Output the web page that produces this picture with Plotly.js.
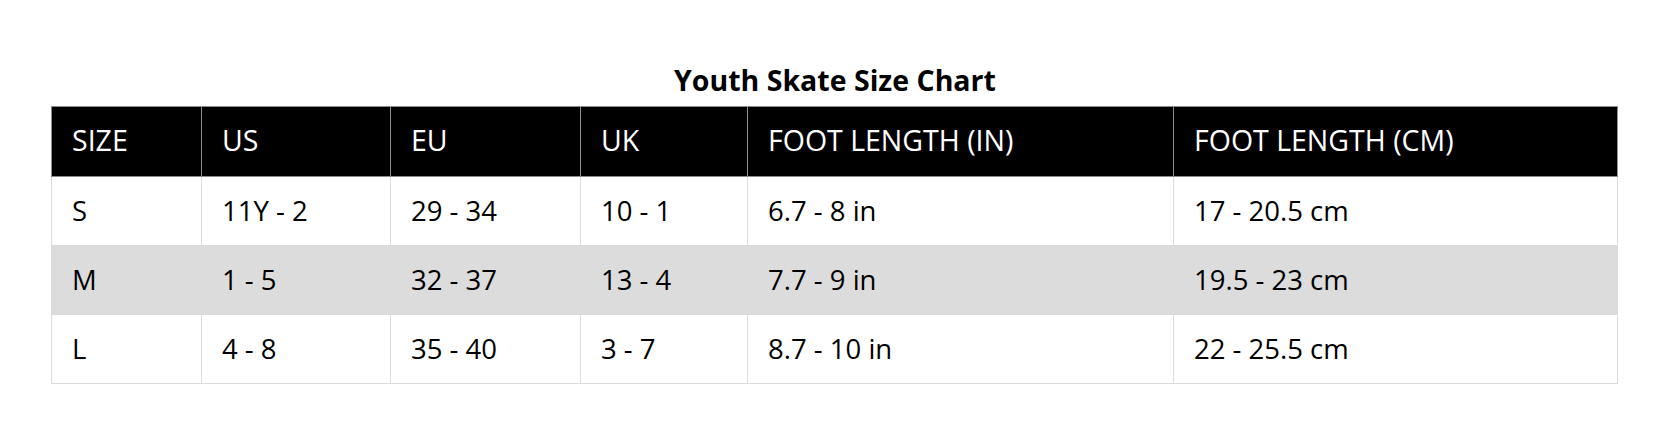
<!DOCTYPE html>
<html>
<head>
<meta charset="utf-8">
<script src="https://cdn.plot.ly/plotly-3.0.1.min.js"></script>
<style>
  html, body { margin: 0; padding: 0; background: #ffffff; }
  #chart { width: 1670px; height: 440px; }
</style>
</head>
<body>
<div id="chart"></div>
<script>
// ---- data ----
var chartTitle = 'Youth Skate Size Chart';
var headers = ['SIZE', 'US', 'EU', 'UK', 'FOOT LENGTH (IN)', 'FOOT LENGTH (CM)'];
var sizes = ['S', 'M', 'L'];
var usSizes = ['11Y - 2', '1 - 5', '4 - 8'];
var euSizes = ['29 - 34', '32 - 37', '35 - 40'];
var ukSizes = ['10 - 1', '13 - 4', '3 - 7'];
var footLengthIn = ['6.7 - 8 in', '7.7 - 9 in', '8.7 - 10 in'];
var footLengthCm = ['17 - 20.5 cm', '19.5 - 23 cm', '22 - 25.5 cm'];

// ---- layout helpers (pixels) ----
var W = 1670, H = 440;
var tableLeft = 51, tableRight = 1617, tableTop = 106;
var textDX = 13, textDY = 16;
var colWidths = [150, 189, 190, 167, 426, 444];
var headH = 70, rowH = 69;
var rowFills = ['#ffffff', '#dcdcdc', '#ffffff'];

var columns = [sizes, usSizes, euSizes, ukSizes, footLengthIn, footLengthCm];
var blankCols = columns.map(function (c) { return c.map(function () { return ''; }); });
var blankHead = headers.map(function () { return ''; });

var fontFam = '"Open Sans", "Noto Sans", sans-serif';

// grid table: fills and borders
var grid = {
  type: 'table',
  domain: { x: [tableLeft / W, tableRight / W], y: [0, 1 - tableTop / H] },
  columnwidth: colWidths,
  header: {
    values: blankHead,
    height: headH,
    fill: { color: '#000000' },
    line: { color: '#8c8c8c', width: 1 },
    font: { family: fontFam, size: 28.5, color: '#ffffff' }
  },
  cells: {
    values: blankCols,
    height: rowH,
    fill: { color: [rowFills] },
    line: { color: '#dcdcdc', width: 1 },
    font: { family: fontFam, size: 27.5, color: '#000000' }
  },
  hoverinfo: 'skip'
};

// text table: same geometry, transparent, offset to position text
var textTable = {
  type: 'table',
  domain: {
    x: [(tableLeft + textDX) / W, (tableRight + textDX) / W],
    y: [0, 1 - (tableTop + textDY) / H]
  },
  columnwidth: colWidths,
  header: {
    values: headers,
    height: headH,
    align: 'left',
    fill: { color: 'rgba(0,0,0,0)' },
    line: { color: 'rgba(0,0,0,0)', width: 0 },
    font: { family: fontFam, size: 28.5, color: '#ffffff' }
  },
  cells: {
    values: columns,
    height: rowH,
    align: 'left',
    fill: { color: 'rgba(0,0,0,0)' },
    line: { color: 'rgba(0,0,0,0)', width: 0 },
    font: { family: fontFam, size: 27.5, color: '#000000' }
  },
  hoverinfo: 'skip'
};

var layout = {
  width: W,
  height: H,
  margin: { l: 0, r: 0, t: 0, b: 0 },
  paper_bgcolor: '#ffffff',
  title: {
    text: chartTitle,
    x: 0.5,
    xanchor: 'center',
    xref: 'container',
    y: 1 - 81 / H,
    yanchor: 'middle',
    yref: 'container',
    font: { family: fontFam, size: 28.5, color: '#000000', weight: 700 }
  },
  showlegend: false
};

Plotly.newPlot('chart', [grid, textTable], layout, { displayModeBar: false, staticPlot: true });
</script>
</body>
</html>
